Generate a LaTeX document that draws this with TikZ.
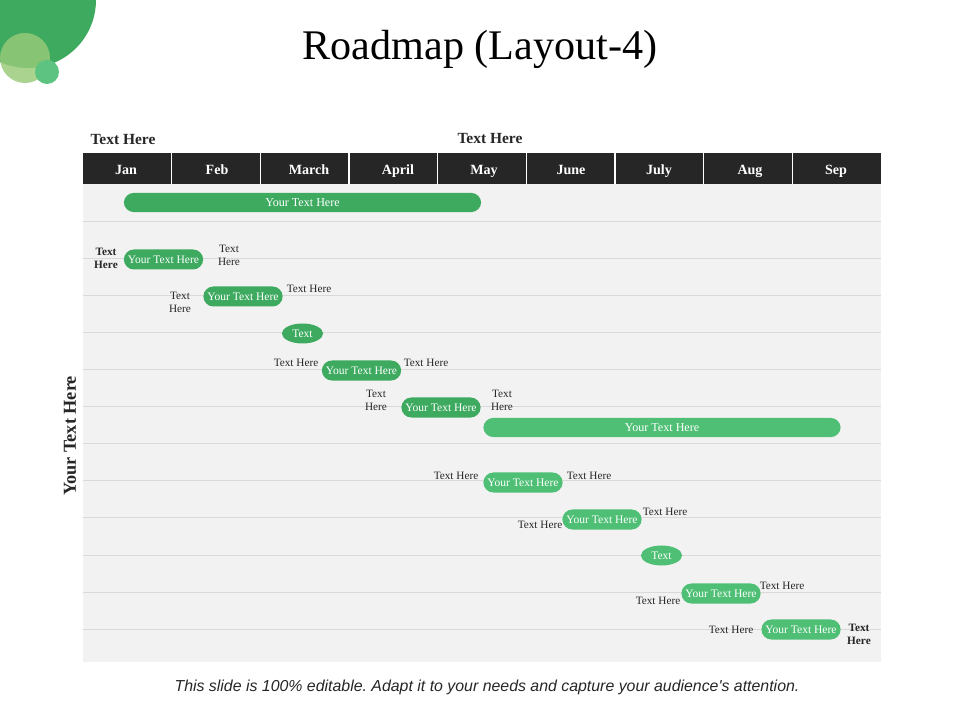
\documentclass[tikz,border=0pt]{standalone}
\usepackage{fontspec}
\setmainfont{Liberation Serif}
\newfontfamily\notefont{Liberation Sans}
\usetikzlibrary{shapes.geometric}
\definecolor{dkgreen}{RGB}{61,170,96}
\definecolor{ltgreen}{RGB}{78,191,116}
\definecolor{olive}{RGB}{151,202,120}
\definecolor{mint}{RGB}{92,196,128}
\definecolor{headgray}{RGB}{38,38,38}
\definecolor{bggray}{RGB}{242,242,242}
\definecolor{linegray}{RGB}{217,217,217}
\definecolor{txtgray}{RGB}{38,38,38}
\frenchspacing
\begin{document}
\begin{tikzpicture}[x=0.025cm, y=-0.025cm,
  every node/.style={inner sep=0pt},
  pill/.style={fill=dkgreen, rounded corners=0.25cm, minimum width=1.98cm, minimum height=0.5cm, text=white, font=\fontsize{8.2}{9}\selectfont},
  bar/.style={pill, minimum width=8.93cm, minimum height=0.48cm, font=\fontsize{8.6}{10}\selectfont},
  dot/.style={ellipse, fill=dkgreen, minimum width=1.03cm, minimum height=0.5cm, text=white, font=\fontsize{8.2}{9}\selectfont},
  note/.style={align=center, text=txtgray, font=\fontsize{8}{9.4}\selectfont},
  boldnote/.style={align=center, text=txtgray, font=\fontsize{8}{9.4}\selectfont\bfseries},
  month/.style={anchor=base, text=white, font=\fontsize{10}{12}\selectfont\bfseries}]
  \useasboundingbox (0,0) rectangle (960,720);
  \begin{scope}
    \clip (0,0) rectangle (960,720);
    \fill[dkgreen] (28,0) circle (68);
    \fill[olive, opacity=0.83] (25,58) circle (25);
    \fill[mint] (47,72) circle (12);
  \end{scope}
  \node[font=\fontsize{30}{36}\selectfont] (title) at (480,49) {Roadmap (Layout-4)};
  \node[font=\fontsize{11}{13}\selectfont\bfseries, text=txtgray] (headl) at (123,140) {Text Here};
  \node[font=\fontsize{11}{13}\selectfont\bfseries, text=txtgray] (headr) at (490,139) {Text Here};
  % chart body
  \fill[bggray] (83,184) rectangle (881,662);
  \foreach \i in {1,...,12}
    \draw[linegray, line width=0.6pt] (83,184+37.1*\i) -- (881,184+37.1*\i);
  \fill[headgray] (83,153) rectangle (881,184);
  \foreach \i in {1,...,8}
    \draw[white, line width=0.8pt] (83+88.67*\i,153) -- (83+88.67*\i,184);
  \foreach \m/\x [count=\i] in {Jan/126,Feb/217,March/309,April/398,May/484,June/571,July/659,Aug/750,Sep/836}
    \node[month] (m\i) at (\x,174.5) {\m};
  \node[rotate=90, font=\fontsize{13}{15}\selectfont\bfseries, text=txtgray] (side) at (70,436) {Your Text Here};
  % tasks
  \node[bar] (b1) at (302.5,202.5) {Your Text Here};
  \node[pill] (t1) at (163.5,259.5) {Your Text Here};
  \node[pill] (t2) at (243,296.5) {Your Text Here};
  \node[dot] (t3) at (302.5,333.5) {Text};
  \node[pill] (t4) at (361.5,370.5) {Your Text Here};
  \node[pill] (t5) at (441,407.5) {Your Text Here};
  \node[bar, fill=ltgreen] (b2) at (662,427.5) {Your Text Here};
  \node[pill, fill=ltgreen] (t7) at (523,482.5) {Your Text Here};
  \node[pill, fill=ltgreen] (t8) at (602,519.5) {Your Text Here};
  \node[dot, fill=ltgreen] (t9) at (661.5,555.5) {Text};
  \node[pill, fill=ltgreen] (t10) at (721,593.5) {Your Text Here};
  \node[pill, fill=ltgreen] (t11) at (801,629.5) {Your Text Here};
  % side notes
  \node[boldnote] (l1) at (106,258.5) {Text\\Here};
  \node[note] (r1) at (229,255.5) {Text\\Here};
  \node[note] (l2) at (180,302) {Text\\Here};
  \node[note] (r2) at (309,289) {Text Here};
  \node[note] (l4) at (296,363) {Text Here};
  \node[note] (r4) at (426,363) {Text Here};
  \node[note] (l5) at (376,400.5) {Text\\Here};
  \node[note] (r5) at (502,400.5) {Text\\Here};
  \node[note] (l7) at (456,476) {Text Here};
  \node[note] (r7) at (589,476) {Text Here};
  \node[note] (l8) at (540,525) {Text Here};
  \node[note] (r8) at (665,512) {Text Here};
  \node[note] (l10) at (658,601) {Text Here};
  \node[note] (r10) at (782,586) {Text Here};
  \node[note] (l11) at (731,630) {Text Here};
  \node[boldnote] (r11) at (859,634.5) {Text\\Here};
  \node[font=\notefont\itshape\fontsize{11.3}{13}\selectfont, text=txtgray] (foot) at (487,687) {This slide is 100\% editable. Adapt it to your needs and capture your audience's attention.};
\end{tikzpicture}
\end{document}
